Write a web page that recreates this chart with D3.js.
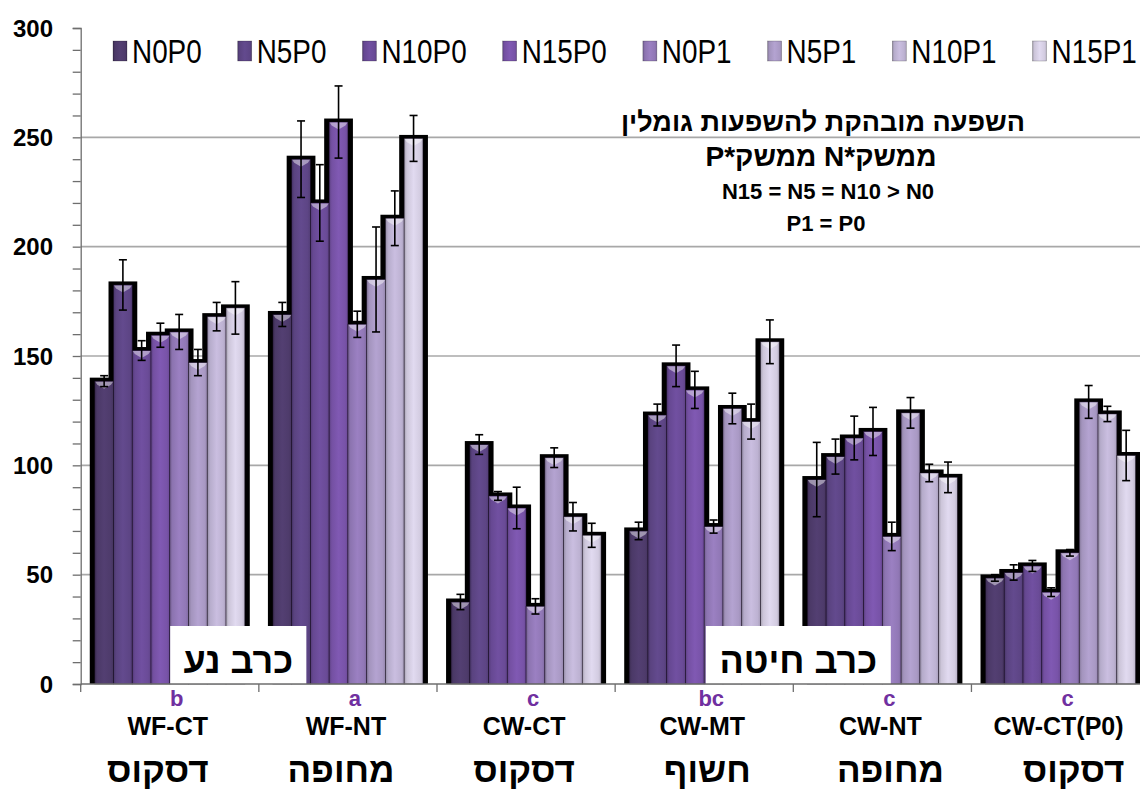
<!DOCTYPE html>
<html>
<head>
<meta charset="utf-8">
<script src="https://cdn.jsdelivr.net/npm/d3@7"></script>
<style>
  html, body { margin: 0; padding: 0; background: #fff; }
  svg { display: block; }
  text { font-family: "Liberation Sans", Arial, sans-serif; }
</style>
</head>
<body>
<svg id="chart" width="1140" height="789"></svg>
<script>
// Systems (x categories), their tillage names and significance letters
const categories = ["WF-CT", "WF-NT", "CW-CT", "CW-MT", "CW-NT", "CW-CT(P0)"];
const tillageNames = ["דסקוס", "מחופה", "דסקוס", "חשוף", "מחופה", "דסקוס"];
const groupLetters = ["b", "a", "c", "bc", "c", "c"];

// Fertilizer treatments (series)
const series = ["N0P0", "N5P0", "N10P0", "N15P0", "N0P1", "N5P1", "N10P1", "N15P1"];
const seriesColors = ["#4e3b6b", "#5d4585", "#6a4b97", "#7853a8", "#9178b6", "#a999c4", "#bdb2d2", "#d3cce1"];

// Mean values per system, in series order
const valuesWFCT   = [138.5, 182.5, 152.5, 159.5, 161, 147, 168, 172];
const valuesWFNT   = [169, 240, 220, 257, 164.5, 185, 213, 249.5];
const valuesCWCT   = [37.5, 109.5, 86, 80.5, 35.5, 103.5, 76.5, 68];
const valuesCWMT   = [70, 123, 145.5, 134.5, 72, 126, 120, 156.5];
const valuesCWNT   = [93.5, 104, 112.5, 115.5, 67.5, 124, 96.5, 94.5];
const valuesCWCTP0 = [48.5, 51, 54, 42, 60, 129, 123.5, 104.5];

// Standard errors per system, in series order
const errWFCT   = [2.5, 11.5, 4.5, 5.5, 8, 6, 6.5, 12];
const errWFNT   = [5.5, 17.5, 17.5, 16.5, 6, 24, 12.5, 10.5];
const errCWCT   = [3.5, 4.5, 2, 9.5, 3.5, 4.5, 6.5, 5.5];
const errCWMT   = [4, 5, 9.5, 8.5, 3, 7, 8, 10];
const errCWNT   = [17, 8, 10, 11, 6.5, 7, 4, 7];
const errCWCTP0 = [1.5, 3.5, 2.5, 2, 1.5, 7.5, 3.5, 11.5];

const yTicks = [0, 50, 100, 150, 200, 250, 300];

// Annotation and box labels
const noteLines = ["השפעה מובהקת להשפעות גומלין", "ממשק*N ממשק*P", "N15 = N5 = N10 > N0", "P1 = P0"];
const boxLabels = ["כרב נע", "כרב חיטה"];

const allValues = [valuesWFCT, valuesWFNT, valuesCWCT, valuesCWMT, valuesCWNT, valuesCWCTP0];
const allErrors = [errWFCT, errWFNT, errCWCT, errCWMT, errCWNT, errCWCTP0];
const data = categories.map((c, i) => ({
  cat: c,
  bars: series.map((s, j) => ({ s, j, v: allValues[i][j], e: allErrors[i][j] }))
}));

const svg = d3.select("#chart");
const plotLeft = 80.7, plotRight = 1149.6, plotTop = 28, plotBottom = 684;

const x = d3.scaleBand().domain(categories).range([plotLeft, plotRight]).padding(0);
const xi = d3.scaleBand().domain(series).range([0, x.bandwidth()]).paddingInner(0).paddingOuter(0.75);
const y = d3.scaleLinear().domain([0, 300]).range([plotBottom, plotTop]);

// Gradients for the bar faces
const defs = svg.append("defs");
series.forEach((s, j) => {
  const base = d3.color(seriesColors[j]);
  const g = defs.append("linearGradient").attr("id", "g" + j)
    .attr("x1", "0").attr("x2", "1").attr("y1", "0").attr("y2", "0");
  [[0, base.darker(0.7)], [0.14, base.darker(0.1)], [0.5, base.brighter(0.18)],
   [0.85, base], [1, base.darker(0.35)]].forEach(([o, c]) =>
    g.append("stop").attr("offset", o).attr("stop-color", c.formatHex()));
});

// Horizontal gridlines
svg.append("g").selectAll("line").data(yTicks.filter(t => t > 0 && t < 300)).join("line")
  .attr("x1", plotLeft).attr("x2", 1140)
  .attr("y1", d => y(d)).attr("y2", d => y(d))
  .attr("stroke", "#a8a8a8").attr("stroke-width", 1.6);

const groups = svg.append("g").selectAll("g").data(data).join("g")
  .attr("transform", d => `translate(${x(d.cat)},0)`);

// Black outline behind each bar
groups.selectAll("rect.shadow").data(d => d.bars).join("rect")
  .attr("class", "shadow")
  .attr("x", d => xi(d.s) - 5)
  .attr("width", xi.bandwidth() + 10)
  .attr("y", d => y(d.v) - 3.5)
  .attr("height", d => plotBottom - y(d.v) + 3.5)
  .attr("fill", "#000");

// Bar faces
groups.selectAll("rect.face").data(d => d.bars).join("rect")
  .attr("class", "face")
  .attr("x", d => xi(d.s))
  .attr("width", xi.bandwidth())
  .attr("y", d => y(d.v))
  .attr("height", d => plotBottom - y(d.v))
  .attr("fill", d => `url(#g${d.j})`)
  .attr("stroke", "rgba(20,10,30,0.55)").attr("stroke-width", 0.8);

// Bevel highlight on bar tops
groups.selectAll("path.bevel").data(d => d.bars).join("path")
  .attr("class", "bevel")
  .attr("d", d => {
    const x0 = xi(d.s) + 0.5, x1 = xi(d.s) + xi.bandwidth() - 0.5, yt = y(d.v) + 0.5;
    const xm = (x0 + x1) / 2;
    return `M${x0},${yt}L${x1},${yt}L${x1 - 2},${yt + 3}L${xm},${yt + 7}L${x0 + 2},${yt + 3}Z`;
  })
  .attr("fill", "#fff").attr("opacity", 0.45);

// Error bars
const eb = groups.selectAll("g.err").data(d => d.bars).join("g").attr("class", "err")
  .attr("transform", d => `translate(${xi(d.s) + xi.bandwidth() / 2},0)`)
  .attr("stroke", "#000").attr("stroke-width", 1.6);
eb.append("line").attr("y1", d => y(d.v + d.e)).attr("y2", d => y(d.v - d.e));
eb.append("line").attr("x1", -4).attr("x2", 4).attr("y1", d => y(d.v + d.e)).attr("y2", d => y(d.v + d.e));
eb.append("line").attr("x1", -4).attr("x2", 4).attr("y1", d => y(d.v - d.e)).attr("y2", d => y(d.v - d.e));

// White label boxes over the bars
function box(x0, x1, label) {
  svg.append("rect").attr("x", x0).attr("y", 626).attr("width", x1 - x0).attr("height", plotBottom - 626)
    .attr("fill", "#fff");
  svg.append("text").attr("x", (x0 + x1) / 2).attr("y", 673)
    .attr("text-anchor", "middle").attr("direction", "rtl")
    .attr("font-size", 36).attr("font-weight", "bold").attr("fill", "#000")
    .text(label);
}
box(x(categories[0]) + 89.5, x(categories[1]) + 47.5, boxLabels[0]);
box(x(categories[3]) + 90.7, x(categories[4]) + 97.5, boxLabels[1]);

// Y axis
const yAxis = d3.axisLeft(y).tickValues(d3.range(0, 301, 10)).tickSize(8).tickFormat("");
const ya = svg.append("g").attr("transform", `translate(${plotLeft},0)`).call(yAxis);
ya.select(".domain").attr("stroke", "#6e6e6e").attr("stroke-width", 1.3);
ya.selectAll(".tick line").attr("stroke", "#6e6e6e").attr("stroke-width", 1.3);

svg.append("g").selectAll("text").data(yTicks).join("text")
  .attr("x", 53).attr("y", d => y(d)).attr("dy", "0.36em")
  .attr("text-anchor", "end").attr("font-size", 24).attr("font-weight", "bold")
  .text(d => d);

// X axis with category dividers
svg.append("line").attr("x1", plotLeft).attr("x2", 1140).attr("y1", plotBottom).attr("y2", plotBottom)
  .attr("stroke", "#6e6e6e").attr("stroke-width", 1.3);
svg.append("g").selectAll("line").data(categories).join("line")
  .attr("x1", d => x(d)).attr("x2", d => x(d))
  .attr("y1", plotBottom).attr("y2", plotBottom + 8)
  .attr("stroke", "#6e6e6e").attr("stroke-width", 1.3);

// Category labels: letter, system code, tillage name
const cx = c => x(c) + x.bandwidth() / 2;
svg.append("g").selectAll("text").data(categories).join("text")
  .attr("x", d => cx(d) + 7).attr("y", 706)
  .attr("text-anchor", "middle").attr("font-size", 22).attr("font-weight", "bold")
  .attr("fill", "#7030a0")
  .text((d, i) => groupLetters[i]);
svg.append("g").selectAll("text").data(categories).join("text")
  .attr("x", d => cx(d) - 2).attr("y", 735)
  .attr("text-anchor", "middle").attr("font-size", 25).attr("font-weight", "bold")
  .text(d => d);
svg.append("g").selectAll("text").data(categories).join("text")
  .attr("x", (d, i) => cx(d) - 12 + 5 * i).attr("y", 782)
  .attr("text-anchor", "middle").attr("direction", "rtl")
  .attr("font-size", 35).attr("font-weight", "bold")
  .text((d, i) => tillageNames[i]);

// Legend
const legend = svg.append("g");
const legendScale = 0.82;
let lx = 113;
series.forEach((s, j) => {
  legend.append("rect").attr("x", lx).attr("y", 41).attr("width", 14).attr("height", 20)
    .attr("fill", `url(#g${j})`).attr("stroke", "rgba(0,0,0,0.35)").attr("stroke-width", 0.6);
  const t = legend.append("text").attr("font-size", 34)
    .attr("transform", `translate(${lx + 19},63) scale(${legendScale},1)`)
    .text(s);
  const w = t.node().getComputedTextLength() * legendScale;
  lx += 19 + w + 36;
});

// Interaction note
const noteSizes = [27, 28, 22, 22];
const noteY = [131, 166, 199, 231];
const noteX = [823, 821, 828, 826];
noteLines.forEach((line, i) => {
  svg.append("text").attr("x", noteX[i]).attr("y", noteY[i])
    .attr("text-anchor", "middle").attr("direction", i < 2 ? "rtl" : "ltr")
    .attr("font-size", noteSizes[i]).attr("font-weight", "bold")
    .text(line);
});
</script>
</body>
</html>
